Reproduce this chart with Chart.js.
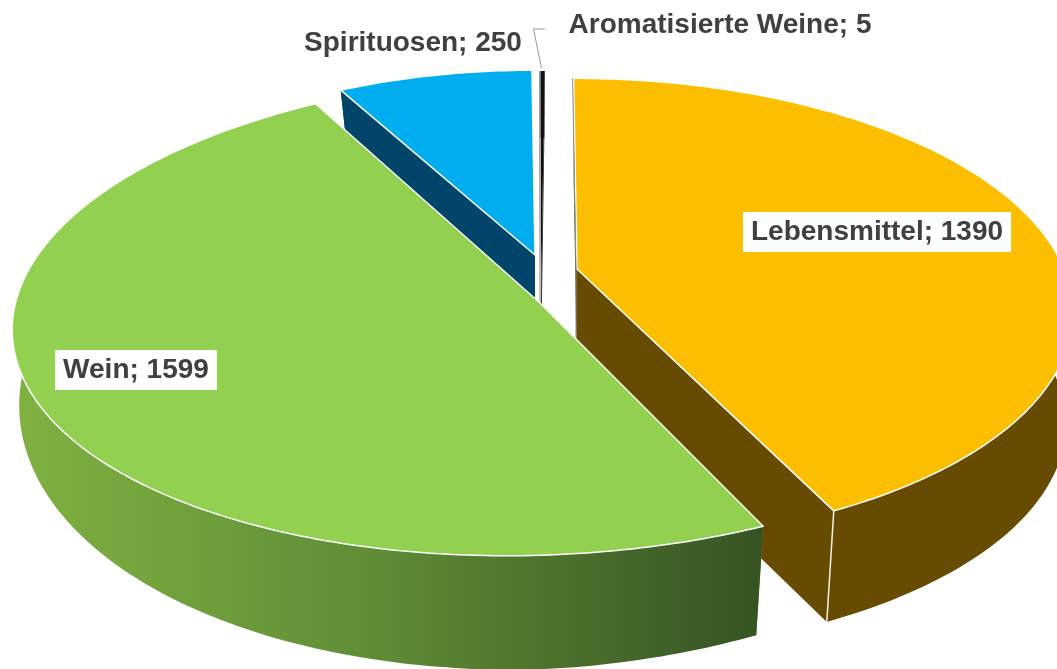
<!DOCTYPE html>
<html>
<head>
<meta charset="utf-8">
<style>
  html, body { margin: 0; padding: 0; background: #fff; overflow: hidden; }
  canvas { display: block; }
</style>
<script src="https://cdn.jsdelivr.net/npm/chart.js@4"></script>
</head>
<body>
<canvas id="chart" width="1057" height="669"></canvas>
<script>
// chart values
const categories = ["Lebensmittel", "Wein", "Spirituosen", "Aromatisierte Weine"];
const values = [1390, 1599, 250, 5];

// colours per slice
const topColors = ["#FCBF00", "#92D050", "#00AEEF", "#111111"];
const wallColors = ["#664B00", "#5F8A35", "#00466A", "#222222"];

// how each exploded slice sits on the tilted plane (ax/ay = tip, k = perspective)
const views = [
  { ax: 577, ay: 269, rx: 487, ry: 225, k: 0.18, lean: -4, shear: 0, depth: 111, wallY: 1 },
  { ax: 540, ay: 303, rx: 526, ry: 240, k: 0.05, lean: 17, shear: 7, depth: 71, wallY: 1.17 },
  { ax: 535, ay: 255, rx: 455, ry: 207, k: 0.12, lean: 1, shear: 0, depth: 60, wallY: 0.97 },
  { ax: 541, ay: 305, rx: 455, ry: 262, k: 0.12, lean: 4, shear: 0, depth: 60, wallY: 0.97 }
];
const WALL_INSET = 7;
const drawOrder = [3, 2, 0, 1];

// label boxes, centre of the text
const labelSpots = [
  { x: 877, y: 232, box: true },
  { x: 136, y: 370, box: true },
  { x: 413, y: 43, box: false },
  { x: 720, y: 25, box: false }
];
const labelFont = 'bold 28px "Liberation Sans", Arial, sans-serif';
const labelColor = "#404040";

function project(v, angle) {
  // chart.js angles start at 3 o'clock, here 0 is straight up
  const t = angle + Math.PI / 2;
  const u = Math.sin(t), b = Math.cos(t);
  const w = 1 + v.k * b;
  return {
    x: v.ax + (v.rx * u + v.lean * b) / w,
    y: v.ay - (v.ry * b + v.shear * u) / w
  };
}

function lower(v, p) {
  const dx = p.x - v.ax;
  const pull = WALL_INSET * Math.max(-1, Math.min(1, dx / 100));
  return {
    x: v.ax + dx - pull,
    y: v.ay + (p.y - v.ay) * v.wallY + v.depth
  };
}

function arcPoints(v, start, end) {
  const pts = [];
  const steps = Math.max(4, Math.ceil((end - start) * 60));
  for (let i = 0; i <= steps; i++) pts.push(project(v, start + (end - start) * i / steps));
  return pts;
}

function fillPoly(ctx, pts, fill) {
  ctx.beginPath();
  pts.forEach((p, i) => (i ? ctx.lineTo(p.x, p.y) : ctx.moveTo(p.x, p.y)));
  ctx.closePath();
  ctx.fillStyle = fill;
  ctx.fill();
}

function wallFill(ctx, i) {
  if (i !== 1) return wallColors[i];
  // the wine wall darkens from left to right
  const g = ctx.createLinearGradient(20, 0, 760, 0);
  g.addColorStop(0, "#7FB040");
  g.addColorStop(0.45, "#628F37");
  g.addColorStop(0.75, "#4B6E2C");
  g.addColorStop(1, "#365422");
  return g;
}

function drawSlice(ctx, arc, i) {
  const v = views[i];
  const arcTop = arcPoints(v, arc.startAngle, arc.endAngle);
  const tip = { x: v.ax, y: v.ay };
  const tipLow = lower(v, tip);
  const first = arcTop[0], last = arcTop[arcTop.length - 1];

  // cut walls
  fillPoly(ctx, [tip, first, lower(v, first), tipLow], wallColors[i]);
  fillPoly(ctx, [tip, last, lower(v, last), tipLow], wallColors[i]);

  // outer wall
  const arcLow = arcTop.map(p => lower(v, p)).reverse();
  fillPoly(ctx, arcTop.concat(arcLow), wallFill(ctx, i));

  // corner line at the front
  if (i < 2) {
    const low = lower(v, last);
    ctx.beginPath();
    ctx.moveTo(last.x, last.y);
    ctx.lineTo(low.x, low.y);
    ctx.strokeStyle = "#F4F1E4";
    ctx.lineWidth = 1.5;
    ctx.stroke();
  }

  // top face
  fillPoly(ctx, [tip].concat(arcTop), arc.options.backgroundColor);
  if (i !== 3) {
    ctx.strokeStyle = "#FFFFFF";
    ctx.lineWidth = 1.5;
    ctx.lineJoin = "round";
    ctx.stroke();
  }

  // thin grey edge on the slices that are seen almost edge on
  if (i === 0 || i === 3) {
    ctx.beginPath();
    ctx.moveTo(first.x - 1, first.y);
    ctx.lineTo(tip.x - 1, tip.y);
    ctx.lineTo(tipLow.x - 1, tipLow.y);
    ctx.strokeStyle = "#8C8C8C";
    ctx.lineWidth = 1;
    ctx.stroke();
  }
}

function drawLabels(ctx) {
  ctx.font = labelFont;
  ctx.textAlign = "center";
  ctx.textBaseline = "middle";
  categories.forEach((name, i) => {
    const text = name + "; " + values[i];
    const spot = labelSpots[i];
    if (spot.box) {
      const w = ctx.measureText(text).width + 16;
      ctx.fillStyle = "#FFFFFF";
      ctx.fillRect(spot.x - w / 2, spot.y - 20, w, 40);
    }
    ctx.fillStyle = labelColor;
    ctx.fillText(text, spot.x, spot.y);
  });

  // leader line for the small slice
  ctx.beginPath();
  ctx.moveTo(545, 29);
  ctx.lineTo(533.5, 29);
  ctx.lineTo(541.5, 68);
  ctx.strokeStyle = "#969696";
  ctx.lineWidth = 1;
  ctx.stroke();
}

const pie3d = {
  id: "pie3d",
  beforeDatasetsDraw(chart) {
    const ctx = chart.ctx;
    const arcs = chart.getDatasetMeta(0).data;
    ctx.save();
    drawOrder.forEach(i => drawSlice(ctx, arcs[i], i));
    drawLabels(ctx);
    ctx.restore();
    return false;
  }
};

new Chart(document.getElementById("chart"), {
  type: "pie",
  data: {
    labels: categories,
    datasets: [{ data: values, backgroundColor: topColors, borderWidth: 0 }]
  },
  options: {
    responsive: false,
    animation: false,
    rotation: 0,
    plugins: { legend: { display: false }, tooltip: { enabled: false } }
  },
  plugins: [pie3d]
});
</script>
</body>
</html>
